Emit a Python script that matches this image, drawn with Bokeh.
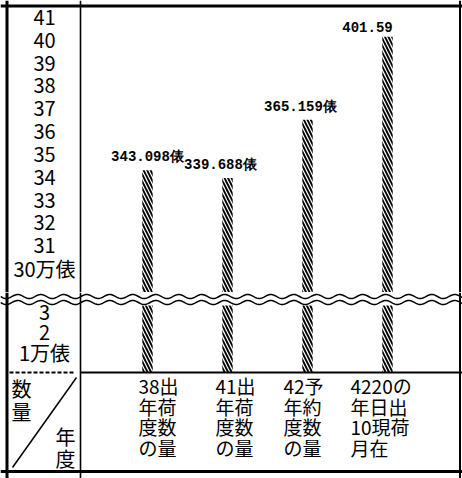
import numpy as np
from bokeh.plotting import figure
from bokeh.layouts import column
from bokeh.models import Range1d, Span
from bokeh.core.properties import value
from bokeh.embed import file_html
from bokeh.resources import INLINE

# ---------------- data ----------------
categories = ["38年度の出荷数量", "41年度の出荷数量", "42年度の予約数量", "42年10月20日現在の出荷"]
category_rows = [
    ["38出", "年荷", "度数", "の量"],
    ["41出", "年荷", "度数", "の量"],
    ["42予", "年約", "度数", "の量"],
    ["4220の", "年日出", "10現荷", "月在"],
]
values_man_hyo = [34.3098, 33.9688, 36.5159, 40.159]   # 万俵
value_labels = ["343.098俵", "339.688俵", "365.159俵", "401.59"]
upper_ticks = [30, 31, 32, 33, 34, 35, 36, 37, 38, 39, 40, 41]
upper_tick_labels = ["30万俵", "31", "32", "33", "34", "35", "36", "37", "38", "39", "40", "41"]
lower_ticks = [1, 2, 3]
lower_tick_labels = ["1万俵", "2", "3"]

# ---------------- layout constants ----------------
W = 462
SPLIT = 292                      # pixel row where the axis break starts
FIRST_PX, PX_PER_CAT = 147, 80
def px2x(px):
    return 1 + (px - FIRST_PX) / PX_PER_CAT

xs = [i + 1 for i in range(len(categories))]
x_range = Range1d(px2x(0), px2x(W))

PPU_TOP = (268 - 17) / 11.0
def top_y(px):
    return 30 + (268 - px) / PPU_TOP

PPU_LOW = 20.0
def low_y(px):
    return (372 - px) / PPU_LOW

SANS = value("Noto Sans CJK JP")
HATCH = dict(fill_color="white", line_color=None, hatch_pattern="\\",
             hatch_color="black", hatch_weight=1.9, hatch_scale=7)

def make_fig(h, y_range):
    f = figure(width=W, height=h, x_range=x_range, y_range=y_range,
               output_backend="svg", toolbar_location=None,
               x_axis_location=None, y_axis_location=None,
               min_border=0, outline_line_color=None,
               background_fill_color="white", border_fill_color="white")
    f.xgrid.visible = False
    f.ygrid.visible = False
    for loc, lw in [(px2x(80), 1.6), (px2x(6.5), 3), (px2x(459.5), 2)]:
        f.add_layout(Span(location=loc, dimension="height", line_color="black", line_width=lw))
    return f

wave_px = np.linspace(0, W, 500)
wave_off = 2.0 * np.sin(2 * np.pi * wave_px / 23.0)
wave_x = [px2x(v) for v in wave_px]

# ---------------- upper panel (30万俵 and up) ----------------
top = make_fig(SPLIT, Range1d(top_y(SPLIT), top_y(0)))
top.add_layout(Span(location=top_y(5.5), dimension="width", line_color="black", line_width=3))
top.vbar(x=xs, width=0.13, bottom=top_y(SPLIT + 1), top=values_man_hyo, **HATCH)
label_dx_px = [0, -7, -7, -20]
top.text(x=[x + d / PX_PER_CAT for x, d in zip(xs, label_dx_px)],
         y=[v + 5 / PPU_TOP for v in values_man_hyo], text=value_labels,
         text_align="center", text_baseline="bottom",
         text_font=value("Liberation Mono"), text_font_style="bold",
         text_font_size="14px", text_color="black")
top.text(x=[px2x(44)] * len(upper_ticks), y=upper_ticks, text=upper_tick_labels,
         text_align="center", text_baseline="middle", text_font=SANS,
         text_font_size="20px", text_color="black")

# ---------------- lower panel (0-3万俵) with category labels ----------------
low = make_fig(478 - SPLIT, Range1d(low_y(478), low_y(SPLIT)))
low.line(wave_x, [low_y(296 + o) for o in wave_off], line_color="black", line_width=1.5)
low.line(wave_x, [low_y(302 + o) for o in wave_off], line_color="black", line_width=1.5)
low.vbar(x=xs, width=0.13, bottom=0, top=low_y(305), **HATCH)
low.text(x=[px2x(44)] * len(lower_ticks), y=lower_ticks, text=lower_tick_labels,
         text_align="center", text_baseline="middle", text_font=SANS,
         text_font_size="20px", text_color="black")
low.segment(x0=[px2x(80)], x1=[px2x(W)], y0=[0], y1=[0], line_color="black", line_width=2)
low.segment(x0=[px2x(9)], x1=[px2x(74)], y0=[0], y1=[0], line_color="black",
            line_width=2, line_dash="4 2")
low.add_layout(Span(location=low_y(471), dimension="width", line_color="black", line_width=3))

cat_dx_px = [-9, -12, -24, -37]
tx, ty, tt = [], [], []
for i, rows in enumerate(category_rows):
    for r, s in enumerate(rows):
        tx.append(xs[i] + cat_dx_px[i] / PX_PER_CAT)
        ty.append(low_y(385 + 20.5 * r))
        tt.append(s)
low.text(x=tx, y=ty, text=tt, text_align="left", text_baseline="middle",
         text_font=SANS, text_font_size="19px", text_color="black")
low.text(x=[px2x(21), px2x(21), px2x(65), px2x(65)],
         y=[low_y(388), low_y(411), low_y(436), low_y(458)],
         text=["数", "量", "年", "度"], text_align="center", text_baseline="middle",
         text_font=SANS, text_font_size="20px", text_color="black")
low.segment(x0=[px2x(12)], y0=[low_y(467)], x1=[px2x(76)], y1=[low_y(377)],
            line_color="black", line_width=1.5)

layout = column(top, low, spacing=0)
open("out.html", "w").write(file_html(layout, INLINE))
